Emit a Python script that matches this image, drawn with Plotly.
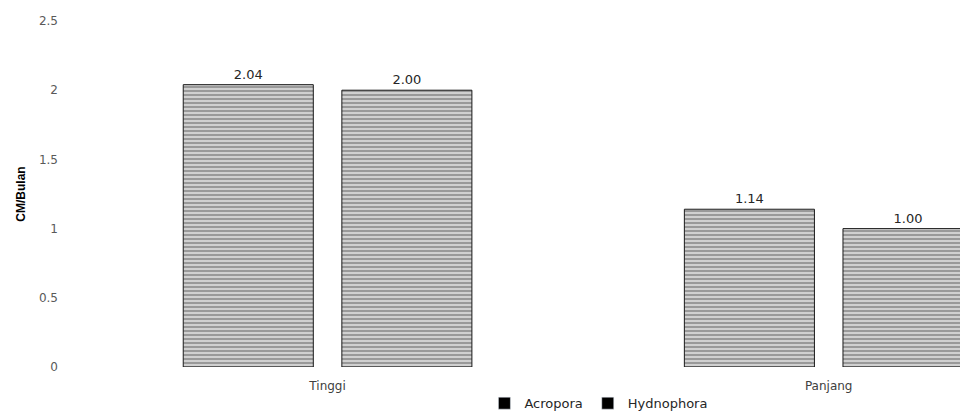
import plotly.graph_objects as go

categories = ["Tinggi", "Panjang"]
acropora = [2.04, 1.14]
hydnophora = [2.00, 1.00]
series_names = ["Acropora", "Hydnophora"]
y_ticks = [0, 0.5, 1, 1.5, 2, 2.5]
y_tick_labels = ["0", "0.5", "1", "1.5", "2", "2.5"]

pattern = dict(shape="-", fgcolor="#3d3d3d", bgcolor="#f4f4f4", size=4, solidity=0.7)
label_font = dict(family="DejaVu Sans", size=13, color="#262626")

fig = go.Figure()
for i, (name, vals) in enumerate(zip(series_names, [acropora, hydnophora])):
    fig.add_trace(go.Bar(
        name=name, x=categories, y=vals, showlegend=False, legendgroup=name,
        offsetgroup=str(i),
        marker=dict(color="#3d3d3d", pattern=pattern, line=dict(color="#1a1a1a", width=1)),
        texttemplate="%{y:.2f}", textposition="outside",
        textfont=label_font, cliponaxis=False,
    ))
# legend keys (solid black squares, as in the original)
for i, name in enumerate(series_names):
    fig.add_trace(go.Bar(
        name=name, x=[None], y=[None], legendgroup=name, showlegend=True,
        offsetgroup=str(i), marker=dict(color="#000000"),
    ))

fig.update_layout(
    width=960, height=419,
    margin=dict(l=75, r=0, t=21, b=52),
    paper_bgcolor="white", plot_bgcolor="white",
    barmode="group", bargap=0.367, bargroupgap=0.18,
    font=dict(family="DejaVu Sans", size=12, color="#595959"),
    xaxis=dict(range=[-0.504, 1.262], showgrid=False, showline=False, zeroline=False,
               ticks="", ticklabelstandoff=10,
               tickfont=dict(family="DejaVu Sans", size=12, color="#404040")),
    yaxis=dict(range=[0, 2.5], tickvals=y_ticks, ticktext=y_tick_labels,
               showgrid=False, showline=False, zeroline=False,
               ticks="", ticklabelstandoff=16,
               tickfont=dict(family="DejaVu Sans", size=12, color="#595959"),
               title=dict(text="<b>CM/Bulan</b>",
                          font=dict(family="Liberation Sans Narrow, Liberation Sans", size=12, color="#000"),
                          standoff=10)),
    legend=dict(orientation="h", x=0.592, xanchor="center", y=-0.148, yanchor="bottom",
                font=dict(family="DejaVu Sans", size=13, color="#262626"),
                itemwidth=30, traceorder="normal"),
    showlegend=True,
)

fig.write_html("out.html", post_script="document.body.style.margin='0';",
               config={"displayModeBar": False})
